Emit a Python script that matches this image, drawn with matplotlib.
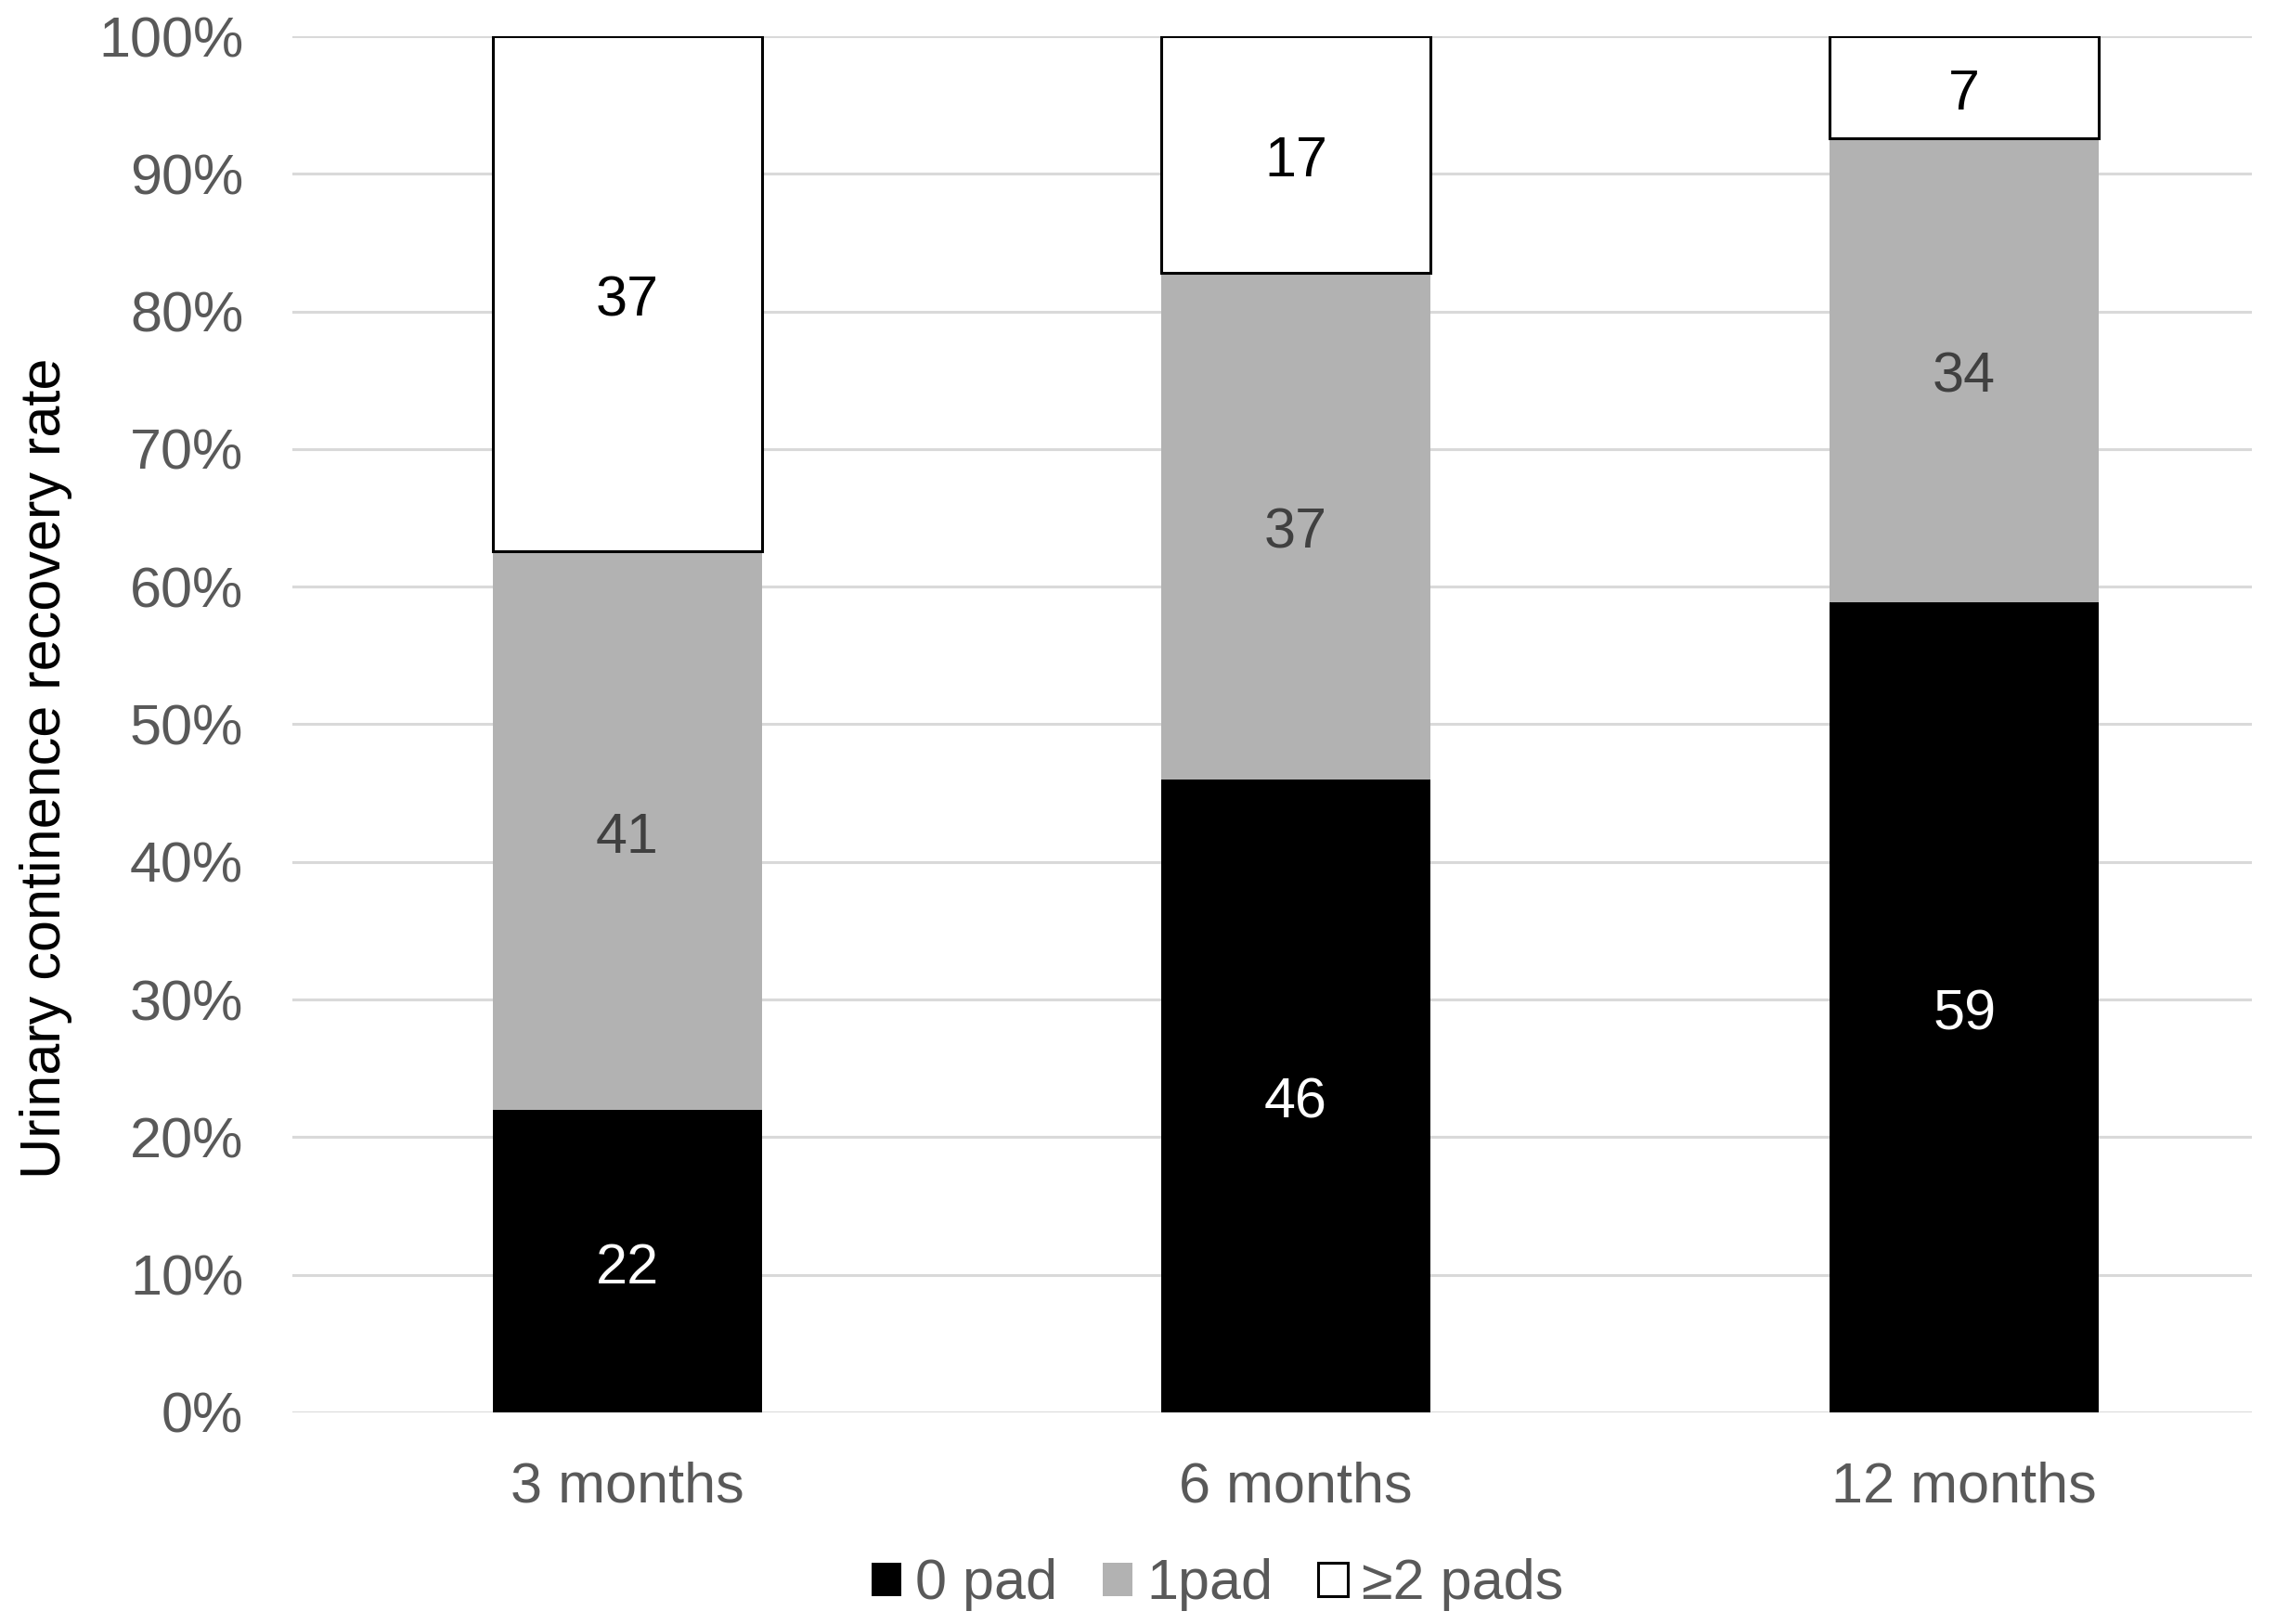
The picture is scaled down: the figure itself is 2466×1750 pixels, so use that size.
import numpy as np
import matplotlib
matplotlib.use('Agg')
import matplotlib.pyplot as plt
from matplotlib.ticker import FuncFormatter

plt.rcParams['font.family'] = ['Liberation Sans', 'DejaVu Sans']

# data (percent of patients)
categories = ['3 months', '6 months', '12 months']
# bar heights as measured on the picture
zero_pad = [22.0, 46.0, 58.9]
one_pad = [40.6, 36.8, 33.7]
two_pads = [37.4, 17.2, 7.4]
# numbers printed in the bars
zero_pad_lab = [22, 46, 59]
one_pad_lab = [41, 37, 34]
two_pads_lab = [37, 17, 7]
series_names = ['0 pad', '1pad', '\u22652 pads']

gray_txt = '#595959'
fs = 44

fig = plt.figure(figsize=(24.66, 17.5), dpi=100)
ax = fig.add_axes([0.1277, 0.1303, 0.856, 0.8474])

x = np.arange(len(categories))
w = 0.403

b0 = ax.bar(x, zero_pad, w, color='black', label=series_names[0], zorder=3)
b1 = ax.bar(x, one_pad, w, bottom=zero_pad, color='#b2b2b2', label=series_names[1], zorder=3)
bottom2 = np.array(zero_pad) + np.array(one_pad)
b2 = ax.bar(x, two_pads, w, bottom=bottom2, color='white', edgecolor='black',
            linewidth=2.2, label=series_names[2], zorder=3)

labs = []
labs += ax.bar_label(b0, labels=[str(v) for v in zero_pad_lab], label_type='center', color='white', fontsize=fs)
labs += ax.bar_label(b1, labels=[str(v) for v in one_pad_lab], label_type='center', color='#404040', fontsize=fs)
labs += ax.bar_label(b2, labels=[str(v) for v in two_pads_lab], label_type='center', color='black', fontsize=fs)
for t in labs:
    t.xyann = (0, -6)   # nudge down a bit, like the original

ax.set_ylim(0, 100)
ax.set_xlim(-0.501, 2.43)
ax.set_yticks(np.arange(0, 101, 10))
ax.yaxis.set_major_formatter(FuncFormatter(lambda v, p: '%d%%' % v))
ax.set_xticks(x)
ax.set_xticklabels(categories)
ax.tick_params(axis='both', length=0, labelsize=fs, labelcolor=gray_txt)
ax.tick_params(axis='y', pad=38)
ax.tick_params(axis='x', pad=38)
ax.grid(axis='y', color='#d9d9d9', linewidth=2.2, zorder=0)
for s in ax.spines.values():
    s.set_visible(False)

fig.text(50 / 2466, 0.527, 'Urinary continence recovery rate', rotation=90,
         ha='center', va='center', fontsize=fs, color='black')

leg = fig.legend(handles=[b0, b1, b2], loc='center', bbox_to_anchor=(0.532, 0.024), ncol=3,
                 frameon=False, fontsize=fs, handlelength=0.52, handleheight=0.52,
                 handletextpad=0.25, columnspacing=0.8)
for t in leg.get_texts():
    t.set_color(gray_txt)

fig.savefig('out.png', dpi=100)
